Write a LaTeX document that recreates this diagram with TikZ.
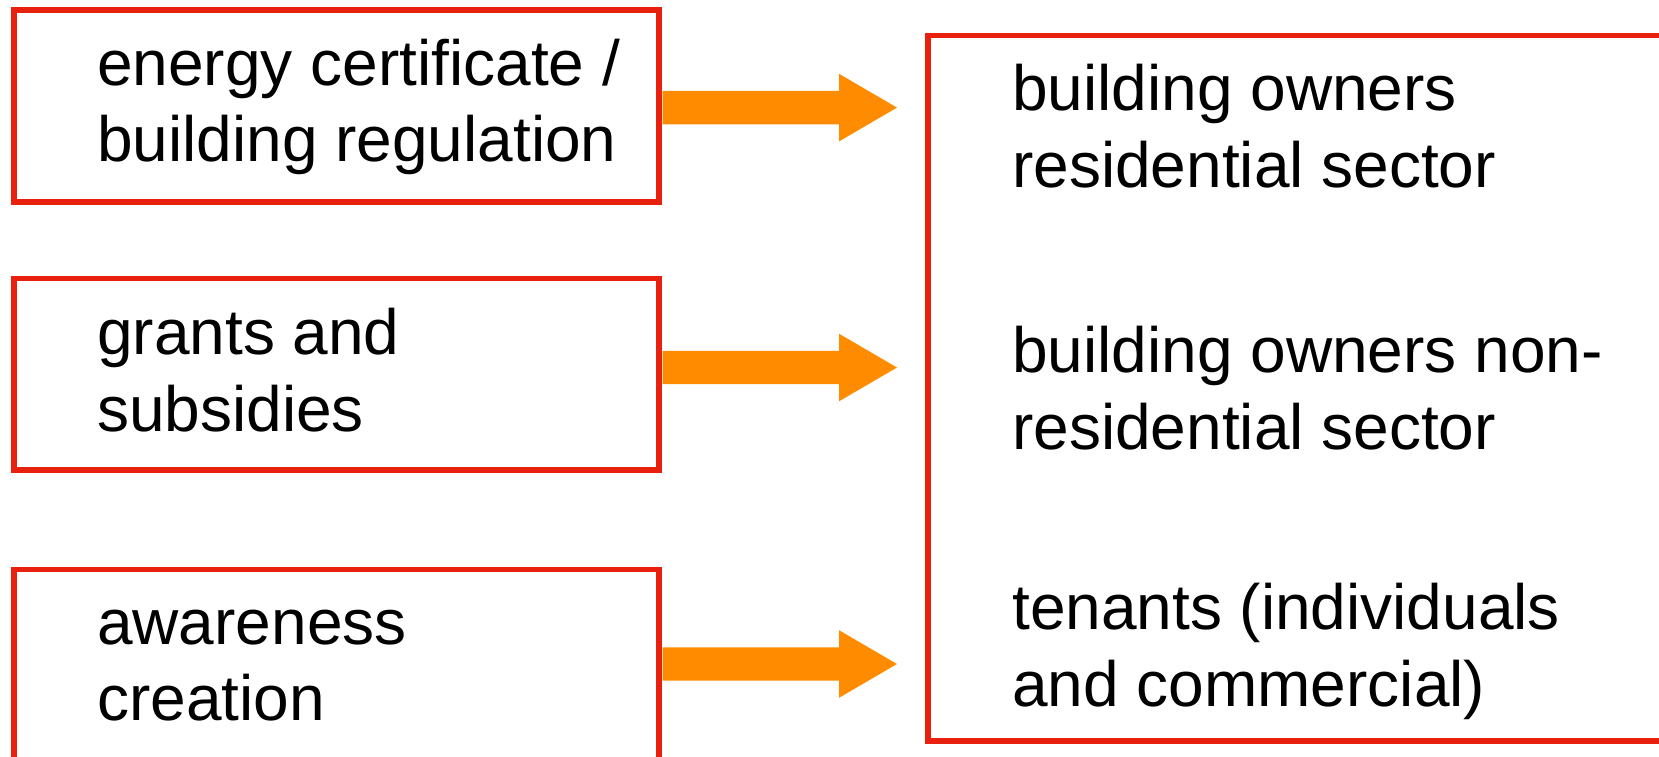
\documentclass[tikz,border=0pt]{standalone}
\usepackage{fontspec}
\setmainfont{Liberation Sans}
\usetikzlibrary{calc}
\definecolor{boxred}{RGB}{232,33,15}
\definecolor{arroworange}{RGB}{255,140,0}
\tikzset{
  redbox/.style={draw=boxred, line width=5.8pt, rectangle, inner sep=0pt, outer sep=0pt, anchor=north west},
  lbl/.style={anchor=base west, inner sep=0pt, align=left, font=\fontsize{64}{76.5}\selectfont},
  blockarrow/.style={fill=arroworange, draw=none}
}
\newcommand\blockarr[2]{%
  \fill[blockarrow] ($(#1.east |- #2)+(4,-16.7)$) -- ($(#2)+(-58,-16.7)$) -- ($(#2)+(-58,-33.8)$) -- (#2)
    -- ($(#2)+(-58,33.8)$) -- ($(#2)+(-58,16.7)$) -- ($(#1.east |- #2)+(4,16.7)$) -- cycle;}
\begin{document}
\begin{tikzpicture}[x=1pt,y=-1pt]
\useasboundingbox (0,0) rectangle (1659,756);
\clip (0,0) rectangle (1659,756);
\node[redbox, minimum width=644.9pt, minimum height=191.7pt] (b1) at (13.8,10.3) {};
\node[redbox, minimum width=644.9pt, minimum height=191.9pt] (b2) at (13.8,278.4) {};
\node[redbox, minimum width=644.9pt, minimum height=240pt] (b3) at (13.8,569.5) {};
\node[redbox, minimum width=780pt, minimum height=705.5pt] (r) at (928,35.5) {};

% base anchor = baseline of the last line
\node[lbl] (l1) at (97,161.5) {energy certificate /\\building regulation};
\node[lbl] (l2) at (97,431) {grants and\\subsidies};
\node[lbl] (l3) at (97,720.5) {awareness\\creation};

\node[lbl] (r1) at (1012,187) {building owners\\residential sector};
\node[lbl] (r2) at (1012,449) {building owners non-\\residential sector};
\node[lbl] (r3) at (1012,706) {tenants (individuals\\and commercial)};

\coordinate (t1) at (897,107.6);
\coordinate (t2) at (897,367.5);
\coordinate (t3) at (897,664);
\blockarr{b1}{t1}
\blockarr{b2}{t2}
\blockarr{b3}{t3}
\end{tikzpicture}
\end{document}
